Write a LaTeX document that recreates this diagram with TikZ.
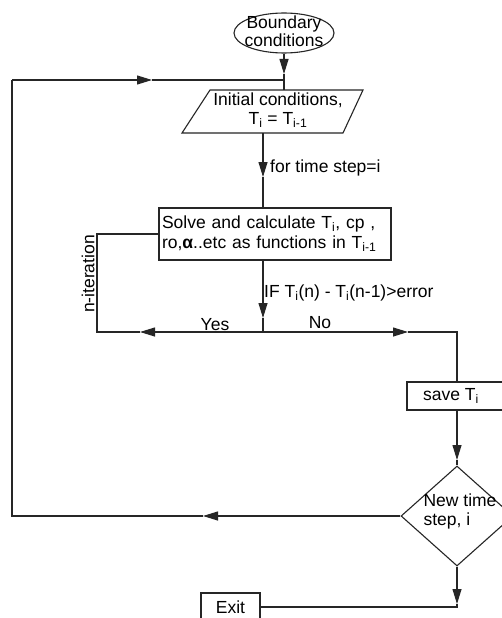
\documentclass[tikz,border=0pt]{standalone}
\usepackage{fontspec}
\setmainfont{Liberation Sans}
\usetikzlibrary{arrows.meta,shapes.geometric}
\tikzset{
  ln/.style={draw=black!85, line width=1.1pt},
  arr/.style={ln, -{Triangle[length=15pt,width=9pt]}},
  boxnode/.style={draw=black!85, line width=1.1pt, rectangle, inner sep=3pt},
  lbl/.style={inner sep=0pt},
}
\begin{document}
\begin{tikzpicture}[x=1pt,y=-1pt,font=\fontsize{17.5}{20}\selectfont]
\useasboundingbox (0,0) rectangle (502,618);
\clip (0,0) rectangle (502,618);
\fill[white] (0,0) rectangle (502,618);

% Boundary conditions
\node[ellipse, draw=black!85, line width=1.1pt, minimum width=100pt, minimum height=40pt, inner sep=0pt] (bc) at (284,33)
  {\smash{\makebox[0pt]{\raisebox{-5pt}{\begin{tabular}{@{}c@{}}Boundary\\[-2pt]conditions\end{tabular}}}}};

% Initial conditions parallelogram
\coordinate (p1) at (210,90);
\coordinate (p2) at (363,90);
\coordinate (p3) at (343,133);
\coordinate (p4) at (182,133);
\draw[ln] (p1) -- (p2) -- (p3) -- (p4) -- cycle;
\node[lbl, align=center] (ic) at (278,110) {Initial conditions,\\[-1pt]T\textsubscript{i} = T\textsubscript{i-1}};

\coordinate (tipA) at (284,74);
\coordinate (jA) at (284,80);
\coordinate (icT) at (284,90);
\coordinate (icB) at (263,133);
\coordinate (tipB) at (263,177);

% Solve box
\node[boxnode, minimum width=232pt, minimum height=52pt, text width=226pt, align=left] (solve) at (275,234)
  {Solve and calculate T\textsubscript{i}, cp ,\\ro,\textbf{α}..etc as functions in T\textsubscript{i-1}};

\node[lbl, anchor=west] (lts) at (270,168) {for time step=i};

% n-iteration loop
\coordinate (nL1) at (97,234);
\coordinate (nL2) at (97,332);
\coordinate (jY) at (263,332);
\coordinate (tipC) at (263,318);
\coordinate (tipY) at (140,332);
\coordinate (tipN) at (408,332);
\coordinate (jN) at (457,332);
\node[lbl, rotate=90] (nit) at (88,274) {n-iteration};
\node[lbl, anchor=west] (lif) at (264,293) {IF T\textsubscript{i}(n) - T\textsubscript{i}(n-1)>error};
\node[lbl] (lyes) at (215,325) {Yes};
\node[lbl] (lno) at (320,323) {No};

% save box
\node[boxnode, minimum width=100pt, minimum height=28pt] (save) at (457,396) {\hspace*{-12pt}save T\textsubscript{i}};
\coordinate (tipS) at (457,460);

% decision
\node[diamond, draw=black!85, line width=1.1pt, minimum width=112pt, minimum height=100pt, inner sep=0pt, align=left] (nt) at (457,516)
  {\smash{\makebox[0pt]{\hspace*{6pt}\begin{tabular}{@{}l@{}}New time\\[-1pt]step, i\end{tabular}}}};
\coordinate (tipL) at (203,516);
\coordinate (cL) at (12,516);
\coordinate (cT) at (12,80);
\coordinate (tipT) at (152,80);
\coordinate (tipE) at (457,604);
\coordinate (cE) at (457,607);

% Exit
\node[boxnode, minimum width=59pt, minimum height=28pt] (exit) at (230.5,607) {Exit};

% connectors
\draw[arr] (bc.south -| jA) -- (tipA);
\draw[ln] (tipA) -- (jA) -- (icT);
\draw[arr] (icB) -- (tipB);
\draw[ln] (tipB) -- (icB |- solve.north);
\draw[arr] (jY |- solve.south) -- (tipC);
\draw[ln] (tipC) -- (jY);
\draw[arr] (jY) -- (tipY);
\draw[ln] (tipY) -- (nL2) -- (nL1) -- (solve.west);
\draw[arr] (jY) -- (tipN);
\draw[ln] (tipN) -- (jN) -- (save.north);
\draw[arr] (save.south) -- (tipS);
\draw[ln] (tipS) -- (nt.north);
\draw[arr] (nt.west) -- (tipL);
\draw[ln] (tipL) -- (cL) -- (cT);
\draw[arr] (cT) -- (tipT);
\draw[ln] (tipT) -- (jA);
\draw[arr] (nt.south) -- (tipE);
\draw[ln] (tipE) -- (cE) -- (exit.east |- cE);
\end{tikzpicture}
\end{document}
